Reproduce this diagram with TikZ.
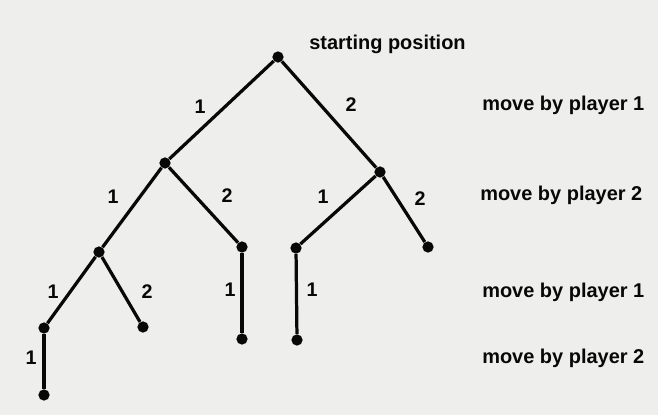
\documentclass[tikz,border=0pt]{standalone}
\usepackage{fontspec}
\setmainfont{Liberation Sans}
\usepackage{xcolor}
\usepackage{tikz}
\usetikzlibrary{positioning}
\definecolor{paperwhite}{RGB}{238, 238, 236}
\definecolor{inkblack}{RGB}{8, 8, 8}

\begin{document}
\begin{tikzpicture}[
    x=0.025cm, y=-0.025cm,
    gamepos/.style={circle, fill=inkblack, inner sep=0pt, minimum size=8pt},
    moveline/.style={draw=inkblack, line width=2.3pt},
    movenum/.style={font=\fontsize{14}{16}\selectfont\bfseries, color=inkblack, inner sep=0pt},
    rowcaption/.style={font=\fontsize{14.2}{16}\selectfont\bfseries, color=inkblack, anchor=west, inner sep=0pt},
]
    % Paper background
    \fill[paperwhite] (0,0) rectangle (658,415);
    \useasboundingbox (0,0) rectangle (658,415);

    % Positions of the game tree
    \node[gamepos] (root) at (278, 57) {};
    \node[gamepos] (a) at (165, 163) {};
    \node[gamepos] (b) at (380, 172) {};
    \node[gamepos] (aa) at (99, 252) {};
    \node[gamepos] (ab) at (242, 247) {};
    \node[gamepos] (ba) at (296, 248) {};
    \node[gamepos] (bb) at (428, 247) {};
    \node[gamepos] (aaa) at (44, 328) {};
    \node[gamepos] (aab) at (143, 327) {};
    \node[gamepos] (aba) at (242, 339) {};
    \node[gamepos] (baa) at (297, 340) {};
    \node[gamepos] (aaaa) at (44, 395) {};

    % Moves
    \draw[moveline] (root) -- (a);
    \draw[moveline] (root) -- (b);
    \draw[moveline] (a) -- (aa);
    \draw[moveline] (a) -- (ab);
    \draw[moveline] (b) -- (ba);
    \draw[moveline] (b) -- (bb);
    \draw[moveline] (aa) -- (aaa);
    \draw[moveline] (aa) -- (aab);
    \draw[moveline] (ab) -- (aba);
    \draw[moveline] (ba) -- (baa);
    \draw[moveline] (aaa) -- (aaaa);

    % Move numbers
    \node[movenum] (l1) at (200, 107) {1};
    \node[movenum] (l2) at (351, 105) {2};
    \node[movenum] (l3) at (113, 197) {1};
    \node[movenum] (l4) at (227, 196) {2};
    \node[movenum] (l5) at (323, 197) {1};
    \node[movenum] (l6) at (420, 199) {2};
    \node[movenum] (l7) at (53, 292) {1};
    \node[movenum] (l8) at (147, 292) {2};
    \node[movenum] (l9) at (230, 290) {1};
    \node[movenum] (l10) at (312, 290) {1};
    \node[movenum] (l11) at (31, 358) {1};

    % Level captions
    \node[rowcaption] (start) at (309, 44) {starting position};
    \node[rowcaption] (row1) at (482, 105) {move by player 1};
    \node[rowcaption] (row2) at (480, 195) {move by player 2};
    \node[rowcaption] (row3) at (482, 292) {move by player 1};
    \node[rowcaption] (row4) at (482, 358) {move by player 2};
\end{tikzpicture}
\end{document}
